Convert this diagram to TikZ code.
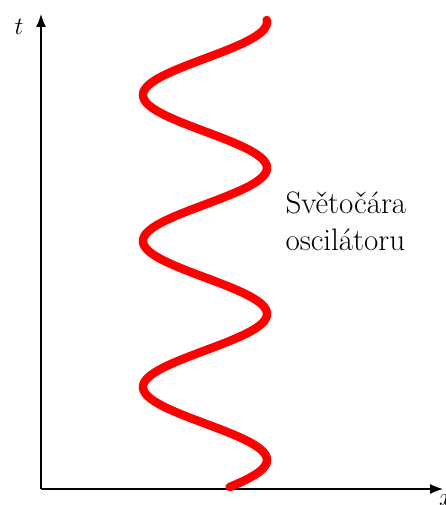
\documentclass[tikz,border=0pt]{standalone}
\usepackage{fontspec}
\usetikzlibrary{arrows.meta}
\begin{document}
\begin{tikzpicture}[x=1pt,y=1pt,
  axis/.style={line width=1.4pt,-{Latex[length=13pt,width=10pt]}},
  worldline/.style={red,line width=8.5pt,line cap=round},
  lbl/.style={font=\fontsize{31}{37}\selectfont,align=left,anchor=west},
  axlbl/.style={font=\fontsize{24}{26}\selectfont}]
\useasboundingbox (0,0) rectangle (446,505);
\coordinate (O) at (41,16);
\coordinate (T) at (41,491);
\coordinate (X) at (443,16);
\draw[axis] (O) -- (T);
\draw[axis] (O) -- (X);
\node[axlbl] (tl) at (19,478) {$t$};
\node[axlbl] (xl) at (446,5) {$x$};
\draw[worldline] plot[domain=20:487,samples=300,smooth]
  ({205+62*cos(2.4658*(\x-460))},{505-\x});
\node[lbl] (txt) at (282,284) {Světočára\\oscilátoru};
\end{tikzpicture}
\end{document}
